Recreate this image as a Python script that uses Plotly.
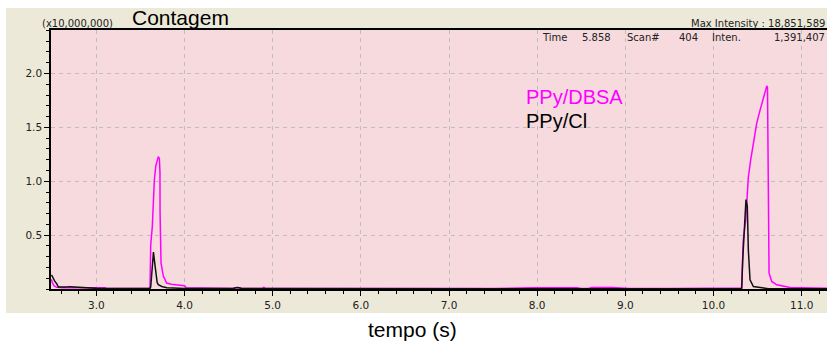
import plotly.graph_objects as go

# ---- data (time in s, intensity in units of 10,000,000 counts) ----
t_dbsa = [2.49, 2.50, 2.52, 2.55, 2.62, 2.80, 3.00, 3.10, 3.12, 3.40, 3.60,
          3.609, 3.617, 3.635, 3.646, 3.658, 3.674, 3.692, 3.703, 3.715,
          3.722, 3.723, 3.734, 3.760, 3.798, 3.85, 3.912, 4.00, 4.02, 4.50,
          4.56, 4.60, 4.64, 4.88, 4.90, 4.92, 5.50, 6.50, 7.50, 7.95, 8.00,
          8.05, 8.45, 8.50, 8.58, 8.62, 8.85, 8.90, 9.00, 9.05, 9.50, 10.00,
          10.30, 10.318, 10.326, 10.338, 10.365, 10.377, 10.395, 10.422,
          10.452, 10.490, 10.528, 10.565, 10.596, 10.604, 10.612, 10.615,
          10.622, 10.630, 10.660, 10.717, 10.868, 11.287]
y_dbsa = [0.09, 0.06, 0.03, 0.015, 0.012, 0.010, 0.010, 0.012, 0.004, 0.004, 0.006,
          0.02, 0.41, 0.58, 0.84, 1.01, 1.14, 1.21, 1.229, 1.21,
          1.08, 0.71, 0.24, 0.12, 0.055, 0.045, 0.04, 0.03, 0.012, 0.012,
          0.005, 0.015, 0.005, 0.004, 0.015, 0.004, 0.004, 0.004, 0.004, 0.012, 0.014,
          0.012, 0.012, 0.004, 0.004, 0.015, 0.015, 0.014, 0.012, 0.004, 0.004, 0.004,
          0.004, 0.01, 0.178, 0.456, 0.64, 0.86, 1.04, 1.20,
          1.35, 1.54, 1.66, 1.77, 1.86, 1.885, 1.87, 1.51,
          0.89, 0.147, 0.07, 0.039, 0.014, 0.008]

t_cl = [2.49, 2.50, 2.53, 2.55, 2.57, 2.62, 2.66, 2.70, 2.74, 2.78, 2.86, 3.00,
        3.50, 3.61, 3.617, 3.628, 3.640, 3.648, 3.658, 3.666, 3.677, 3.690,
        3.703, 3.742, 3.80, 3.949, 4.00, 4.55, 4.58, 4.62, 4.65, 10.31,
        10.320, 10.331, 10.346, 10.357, 10.368, 10.383, 10.395, 10.414,
        10.452, 10.55, 10.604, 10.62, 11.287]
y_cl = [0.13, 0.12, 0.07, 0.05, 0.018, 0.015, 0.018, 0.022, 0.02, 0.012, 0.008, 0.006,
        0.004, 0.004, 0.02, 0.147, 0.33, 0.342, 0.27, 0.21, 0.116, 0.06,
        0.04, 0.023, 0.012, 0.008, 0.005, 0.004, 0.012, 0.012, 0.004, 0.003,
        0.008, 0.27, 0.52, 0.73, 0.83, 0.77, 0.36, 0.085,
        0.023, 0.012, 0.008, 0.002, 0.002]

x_range = [2.486, 11.287]
y_range = [0, 2.404]
y_ticks = [0.5, 1.0, 1.5, 2.0]

W, H = 827, 342
L, R, T, B = 51, 827, 30, 289


def px(x):
    return (x - L) / (R - L)


def py(y):
    return (B - y) / (B - T)


fig = go.Figure()
fig.add_trace(go.Scatter(x=t_dbsa, y=y_dbsa, mode="lines",
                         line=dict(color="#FF00FF", width=1.5), name="PPy/DBSA"))
fig.add_trace(go.Scatter(x=t_cl, y=y_cl, mode="lines",
                         line=dict(color="#111111", width=1.5), name="PPy/Cl"))

tick_font = dict(family="DejaVu Sans", size=10.5, color="#222222")
fig.update_layout(
    width=W, height=H,
    margin=dict(l=L, r=W - R, t=T, b=H - B),
    paper_bgcolor="white",
    plot_bgcolor="#F6DADD",
    showlegend=False,
    xaxis=dict(range=x_range, dtick=1, tick0=0, tickformat=".1f",
               ticks="outside", ticklen=5, tickcolor="black", tickwidth=1,
               showline=True, linecolor="black", linewidth=2, mirror=True,
               showgrid=True, gridcolor="#BDBDBD", griddash="4px,4px", gridwidth=1,
               zeroline=False, tickfont=tick_font,
               minor=dict(dtick=0.2, tick0=0, ticks="outside", ticklen=3,
                          tickcolor="black", tickwidth=1, showgrid=False)),
    yaxis=dict(range=y_range, tickmode="array", tickvals=y_ticks,
               ticktext=[f"{v:.1f}" for v in y_ticks],
               ticks="outside", ticklen=5, tickcolor="black", tickwidth=1,
               showline=True, linecolor="black", linewidth=1.5,
               showgrid=True, gridcolor="#BDBDBD", griddash="4px,4px", gridwidth=1,
               zeroline=False, tickfont=tick_font,
               minor=dict(tickmode="linear", dtick=0.1, tick0=0, ticks="outside",
                          ticklen=3, tickcolor="black", showgrid=False)),
)

# beige panel behind the plot, then the pink plotting area on top of it
fig.add_shape(type="rect", xref="paper", yref="paper",
              x0=px(6), x1=px(830), y0=py(313), y1=py(8),
              fillcolor="#ECE9D8", line=dict(width=0), layer="below")
fig.add_shape(type="rect", xref="paper", yref="paper",
              x0=0, x1=1, y0=0, y1=1,
              fillcolor="#F6DADD", line=dict(width=0), layer="below")

small = dict(family="DejaVu Sans", size=10, color="#222222")
big = dict(family="Liberation Sans", size=21, color="black")


def ann(text, x, y, font, xanchor="left"):
    fig.add_annotation(text=text, x=px(x), y=py(y), xref="paper", yref="paper",
                       xanchor=xanchor, yanchor="middle", showarrow=False,
                       font=font, borderpad=0)


ann("(x10,000,000)", 41, 23, small)
ann("Contagem", 131, 17, big)
ann("Max Intensity : 18,851,589", 826, 23, small, xanchor="right")
ann("Time", 541, 37.5, small)
ann("5.858", 581, 37.5, small)
ann("Scan#", 626, 37.5, small)
ann("404", 678, 37.5, small)
ann("Inten.", 711, 37.5, small)
ann("1,391,407", 826, 37.5, small, xanchor="right")
ann("PPy/DBSA", 525, 97, dict(family="Liberation Sans", size=20, color="#FF00FF"))
ann("PPy/Cl", 525, 121, dict(family="Liberation Sans", size=20, color="black"))
ann("tempo (s)", 412, 329, big, xanchor="center")

fig.write_html("out.html")
